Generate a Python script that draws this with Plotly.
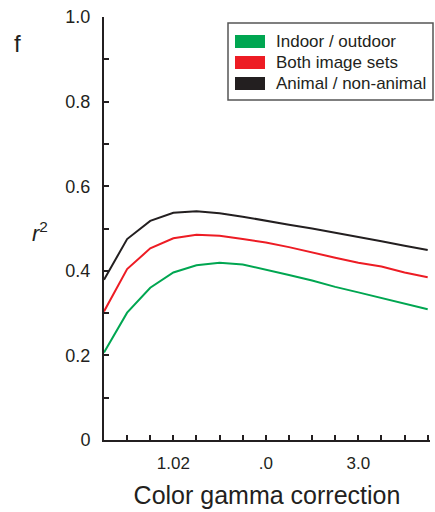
import plotly.graph_objects as go

# ---- data ----
x_index = list(range(15))
x_tick_positions = [3, 7, 11]
x_tick_labels = ["1.02", ".0", "3.0"]
y_tick_values = [0, 0.2, 0.4, 0.6, 0.8, 1.0]
y_tick_labels = ["0", "0.2", "0.4", "0.6", "0.8", "1.0"]

series_names = ["Indoor / outdoor", "Both image sets", "Animal / non-animal"]
series_colors = ["#00A651", "#ED1C24", "#231F20"]

indoor_outdoor = [0.207, 0.301, 0.360, 0.396, 0.413, 0.419, 0.415, 0.403,
                  0.390, 0.377, 0.362, 0.349, 0.336, 0.323, 0.309]
both_sets = [0.304, 0.404, 0.453, 0.477, 0.485, 0.483, 0.475, 0.467,
             0.456, 0.443, 0.431, 0.419, 0.410, 0.396, 0.385]
animal = [0.379, 0.475, 0.518, 0.537, 0.541, 0.536, 0.528, 0.518,
          0.509, 0.500, 0.490, 0.481, 0.470, 0.459, 0.449]
series_values = [indoor_outdoor, both_sets, animal]

FONT = "Liberation Sans, Arial, Helvetica, sans-serif"

# plot area in pixels
W, H = 435, 512
L, R, T, B = 104, 5, 17, 72
PW, PH = W - L - R, H - T - B


def px(xp):
    return (xp - L) / PW


def py(yp):
    return (H - B - yp) / PH


fig = go.Figure()
for name, vals, col in zip(series_names, series_values, series_colors):
    fig.add_trace(go.Scatter(x=x_index, y=vals, mode="lines", name=name,
                             line=dict(color=col, width=2), showlegend=False))

# manual legend
shapes = [dict(type="rect", xref="paper", yref="paper",
               x0=px(228), x1=px(433), y0=py(100), y1=py(23),
               line=dict(color="#555555", width=1.5), fillcolor="white", layer="above")]
annotations = []
row_centers = [41.5, 62.5, 83.5]
for name, col, yc in zip(series_names, series_colors, row_centers):
    shapes.append(dict(type="rect", xref="paper", yref="paper",
                       x0=px(235), x1=px(265), y0=py(yc + 6.5), y1=py(yc - 6.5),
                       line=dict(width=0), fillcolor=col, layer="above"))
    annotations.append(dict(xref="paper", yref="paper", x=px(274), y=py(yc),
                            text=name, showarrow=False, xanchor="left", yanchor="middle",
                            font=dict(family=FONT, size=17, color="#231F20")))

annotations.append(dict(xref="paper", yref="paper", x=px(17), y=py(44),
                        text="f", showarrow=False, xanchor="center", yanchor="middle",
                        font=dict(family=FONT, size=24, color="#231F20")))
annotations.append(dict(xref="paper", yref="paper", x=px(40), y=py(232),
                        text="<i>r</i><sup>2</sup>", showarrow=False,
                        xanchor="center", yanchor="middle",
                        font=dict(family=FONT, size=22, color="#231F20")))

fig.update_layout(
    width=W, height=H,
    margin=dict(l=L, r=R, t=T, b=B),
    paper_bgcolor="white", plot_bgcolor="white",
    font=dict(family=FONT, color="#231F20"),
    shapes=shapes, annotations=annotations,
    xaxis=dict(range=[0, 14.1], showgrid=False, zeroline=False,
               showline=True, linecolor="#231F20", linewidth=2,
               tickmode="array", tickvals=x_tick_positions, ticktext=x_tick_labels,
               ticks="inside", ticklen=5, tickwidth=1.5, tickcolor="#231F20",
               tickfont=dict(size=17, family=FONT, color="#231F20"),
               ticklabelstandoff=7,
               minor=dict(dtick=1, tick0=0, ticks="inside", ticklen=5,
                          tickwidth=1.5, tickcolor="#231F20", showgrid=False),
               title=dict(text="Color gamma correction",
                          font=dict(size=25, family=FONT, color="#231F20"),
                          standoff=14)),
    yaxis=dict(range=[0, 1.0], showgrid=False, zeroline=False,
               showline=True, linecolor="#231F20", linewidth=2,
               tickmode="array", tickvals=y_tick_values, ticktext=y_tick_labels,
               ticks="inside", ticklen=5, tickwidth=1.5, tickcolor="#231F20",
               tickfont=dict(size=18, family=FONT, color="#231F20"),
               ticklabelstandoff=8,
               minor=dict(dtick=0.1, tick0=0, ticks="inside", ticklen=5,
                          tickwidth=1.5, tickcolor="#231F20", showgrid=False)),
)

fig.write_html("out.html", config={"displayModeBar": False},
               post_script="document.body.style.margin='0';document.body.style.padding='0';")
